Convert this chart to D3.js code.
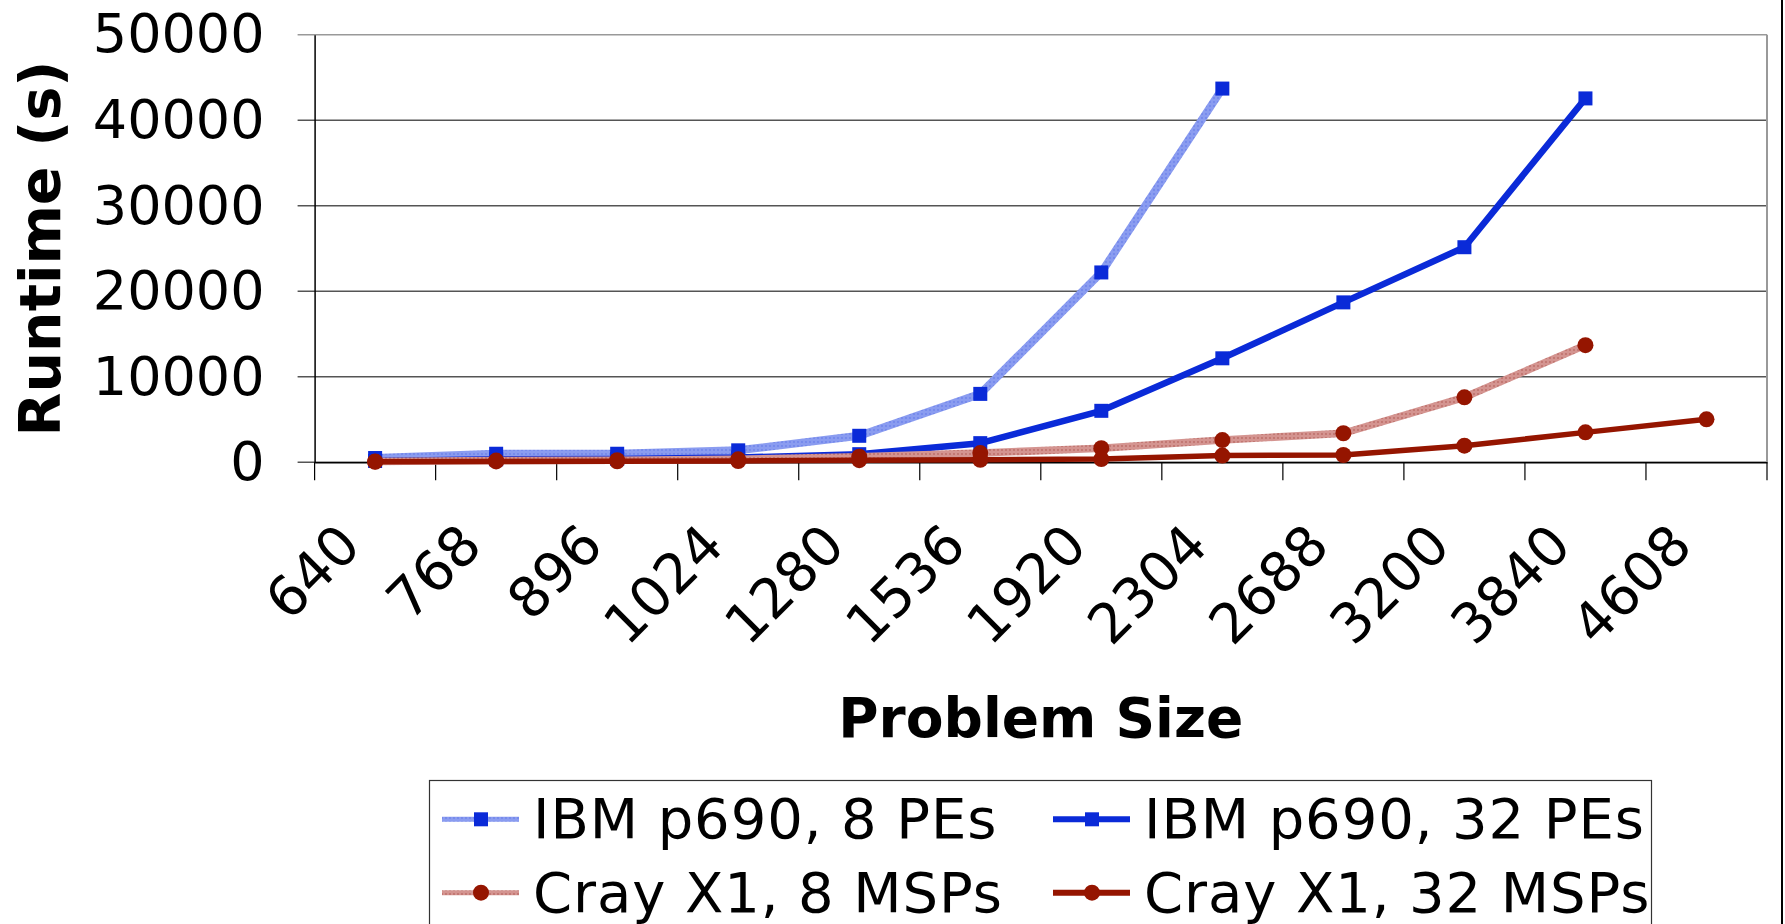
<!DOCTYPE html>
<html>
<head>
<meta charset="utf-8">
<script src="https://cdn.jsdelivr.net/npm/d3@7"></script>
<style>
  html, body { margin: 0; padding: 0; background: #fff; }
  svg { display: block; font-family: "DejaVu Sans", Verdana, sans-serif; }
</style>
</head>
<body>
<svg id="chart" width="1785" height="924"></svg>
<script>
// Datos
const sizes = ['640', '768', '896', '1024', '1280', '1536', '1920', '2304', '2688', '3200', '3840', '4608'];
const ibm8 = [500, 1000, 1000, 1400, 3100, 8000, 22200, 43700];
const ibm32 = [150, 350, 400, 550, 950, 2240, 6020, 12160, 18700, 25150, 42550];
const cray8 = [100, 200, 250, 350, 650, 1080, 1650, 2600, 3400, 7600, 13700];
const cray32 = [50, 100, 120, 150, 250, 300, 380, 790, 850, 1940, 3500, 5030];
const yTicks = [0, 10000, 20000, 30000, 40000, 50000];
const seriesNames = ['IBM p690, 8 PEs', 'IBM p690, 32 PEs', 'Cray X1, 8 MSPs', 'Cray X1, 32 MSPs'];

const series = [
  { name: seriesNames[0], values: ibm8, stroke: 'url(#patBlue)', width: 8, legW: 5, marker: 'square' },
  { name: seriesNames[1], values: ibm32, stroke: '#0a2ad8', width: 6.5, legW: 6, marker: 'square' },
  { name: seriesNames[2], values: cray8, stroke: 'url(#patRed)', width: 7.5, legW: 5, marker: 'circle' },
  { name: seriesNames[3], values: cray32, stroke: '#951500', width: 5.5, legW: 6, marker: 'circle' }
];

const svg = d3.select('#chart');
const m = { l: 314.6, r: 1767, t: 34.7, b: 462.3 };

// Patrones punteados para las series claras
const defs = svg.append('defs');
function dotPattern(id, base, dot) {
  const p = defs.append('pattern').attr('id', id)
    .attr('width', 4).attr('height', 4).attr('patternUnits', 'userSpaceOnUse');
  p.append('rect').attr('width', 4).attr('height', 4).attr('fill', base);
  p.append('circle').attr('cx', 2).attr('cy', 2).attr('r', 0.9).attr('fill', dot);
}
dotPattern('patBlue', '#8a9cf0', '#6d82ea');
dotPattern('patRed', '#d49490', '#bb6c66');

const x = d3.scaleBand().domain(sizes).range([m.l, m.r]);
const y = d3.scaleLinear().domain([0, 50000]).range([m.b, m.t]);
const cx = d => x(d) + x.bandwidth() / 2;

// Lineas de cuadricula
svg.append('g').selectAll('line').data(yTicks).join('line')
  .attr('x1', m.l - 17).attr('x2', m.r)
  .attr('y1', d => y(d)).attr('y2', d => y(d))
  .attr('stroke', d => d === 50000 ? '#999' : '#555')
  .attr('stroke-width', 1.6);

// Borde derecho del area de trazado
svg.append('line')
  .attr('x1', m.r).attr('x2', m.r).attr('y1', m.t).attr('y2', m.b)
  .attr('stroke', '#999').attr('stroke-width', 2);

// Eje Y
const yAxis = svg.append('g')
  .attr('transform', `translate(${m.l},0)`)
  .call(d3.axisLeft(y).tickValues(yTicks).tickSize(0).tickPadding(50).tickFormat(d3.format('d')));
yAxis.select('.domain').attr('stroke', '#000').attr('stroke-width', 1.5);
yAxis.selectAll('text').attr('font-size', 54).attr('fill', '#000')
  .attr('font-family', '"DejaVu Sans", Verdana, sans-serif');

// Eje X
const xAxis = svg.append('g')
  .attr('transform', `translate(0,${m.b})`)
  .call(d3.axisBottom(x).tickSize(0).tickFormat(''));
xAxis.select('.domain').attr('stroke', '#000').attr('stroke-width', 1.5);

// Marcas entre categorias
const bounds = sizes.map(s => x(s)).concat([m.r]);
svg.append('g').selectAll('line').data(bounds).join('line')
  .attr('x1', d => d).attr('x2', d => d)
  .attr('y1', m.b).attr('y2', m.b + 18)
  .attr('stroke', '#000').attr('stroke-width', 1.2);

// Etiquetas rotadas
svg.append('g').selectAll('text').data(sizes).join('text')
  .attr('transform', d => `translate(${cx(d) - 12},${m.b + 86}) rotate(-45)`)
  .attr('text-anchor', 'end')
  .attr('font-size', 55)
  .text(d => d);

// Titulos de ejes
svg.append('text')
  .attr('x', (m.l + m.r) / 2).attr('y', 737)
  .attr('text-anchor', 'middle').attr('font-size', 55).attr('font-weight', 'bold')
  .text('Problem Size');
svg.append('text')
  .attr('transform', `translate(60,${(m.t + m.b) / 2}) rotate(-90)`)
  .attr('text-anchor', 'middle').attr('font-size', 57).attr('font-weight', 'bold')
  .text('Runtime (s)');

// Series
const line = d3.line().x((d, i) => cx(sizes[i])).y(d => y(d));
function drawMarker(g, type, px, py) {
  if (type === 'square') {
    g.append('rect').attr('x', px - 7).attr('y', py - 7)
      .attr('width', 14).attr('height', 14).attr('fill', '#0a2ad8');
  } else {
    g.append('circle').attr('cx', px).attr('cy', py).attr('r', 8).attr('fill', '#951500');
  }
}
series.forEach(s => {
  const g = svg.append('g');
  g.append('path').datum(s.values).attr('d', line)
    .attr('fill', 'none').attr('stroke', s.stroke)
    .attr('stroke-width', s.width).attr('stroke-linejoin', 'round');
  s.values.forEach((v, i) => drawMarker(g, s.marker, cx(sizes[i]), y(v)));
});

// Leyenda
svg.append('rect')
  .attr('x', 429.5).attr('y', 780.5).attr('width', 1222).attr('height', 200)
  .attr('fill', 'none').attr('stroke', '#333').attr('stroke-width', 1.2);
const legX = [442, 1053], legY = [819.3, 892.7];
series.forEach((s, i) => {
  const lx = legX[i % 2], ly = legY[Math.floor(i / 2)];
  const g = svg.append('g');
  g.append('line').attr('x1', lx).attr('x2', lx + 77).attr('y1', ly).attr('y2', ly)
    .attr('stroke', s.stroke).attr('stroke-width', s.legW);
  drawMarker(g, s.marker, lx + 39, ly);
  g.append('text').attr('x', lx + 91).attr('y', ly + 19)
    .attr('font-size', 56).attr('letter-spacing', 0.9).text(s.name);
});

// Borde derecho de la figura
svg.append('line')
  .attr('x1', 1782).attr('x2', 1782).attr('y1', 0).attr('y2', 924)
  .attr('stroke', '#000').attr('stroke-width', 2);
</script>
</body>
</html>
